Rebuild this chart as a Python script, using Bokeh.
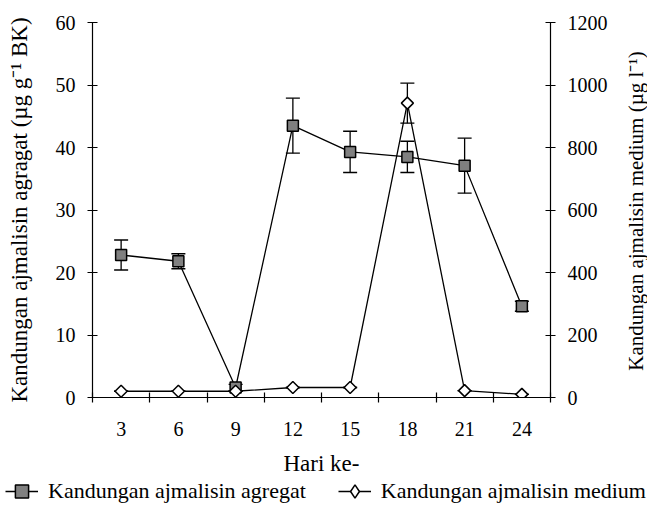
import math
from bokeh.plotting import figure
from bokeh.layouts import column, row
from bokeh.models import (Range1d, LinearAxis, FixedTicker, Whisker, ColumnDataSource,
                          Legend, LegendItem, TeeHead, Label)
from bokeh.embed import file_html
from bokeh.resources import INLINE

# ---- data ----
days = [3, 6, 9, 12, 15, 18, 21, 24]
day_boundaries = [1.5, 4.5, 7.5, 10.5, 13.5, 16.5, 19.5, 22.5, 25.5]
agregat = [22.8, 21.8, 1.6, 43.5, 39.3, 38.5, 37.1, 14.6]
agregat_err = [2.4, 1.2, 0.5, 4.4, 3.3, 2.5, 4.4, 0.8]
medium = [20, 20, 20, 32, 32, 942, 22, 10]
medium_err = [0, 0, 0, 0, 0, 64, 0, 0]
left_ticks = [0, 10, 20, 30, 40, 50, 60]
right_ticks = [0, 200, 400, 600, 800, 1000, 1200]
series_labels = ["Kandungan ajmalisin agregat", "Kandungan ajmalisin medium"]
left_title = "Kandungan ajmalisin agragat (\u00b5g g\u207b\u00b9 BK)"
right_title = "Kandungan ajmalisin medium (\u00b5g l\u207b\u00b9)"
x_title = "Hari ke-"

FONT = "Liberation Serif"

src_a = ColumnDataSource(dict(
    x=days, y=agregat,
    upper=[v + e for v, e in zip(agregat, agregat_err)],
    lower=[v - e for v, e in zip(agregat, agregat_err)]))
src_m = ColumnDataSource(dict(
    x=days, y=medium,
    upper=[v + e for v, e in zip(medium, medium_err)],
    lower=[v - e for v, e in zip(medium, medium_err)]))

PH = 478
p = figure(width=622, height=PH, output_backend="svg", toolbar_location=None,
           x_range=Range1d(1.5, 25.5), y_range=Range1d(0, 60),
           x_axis_type=None, y_axis_type=None,
           min_border_left=92, min_border_right=72, min_border_top=22, min_border_bottom=79)
p.extra_y_ranges = {"medium": Range1d(0, 1200)}
p.outline_line_color = None
p.xgrid.visible = False
p.ygrid.visible = False
p.background_fill_color = "white"
p.border_fill_color = "white"


def style_axis(ax):
    ax.axis_line_color = "black"
    ax.axis_line_width = 1.2
    ax.major_tick_line_color = "black"
    ax.major_tick_line_width = 1.2
    ax.minor_tick_line_color = "black"
    ax.minor_tick_line_width = 1.2
    ax.major_label_text_font = FONT
    ax.major_label_text_font_size = "20px"
    ax.major_label_text_color = "black"
    ax.axis_label_text_font = FONT
    ax.axis_label_text_font_size = "21px"
    ax.axis_label_text_font_style = "normal"
    ax.axis_label_text_color = "black"


xax = LinearAxis(ticker=FixedTicker(ticks=days, minor_ticks=day_boundaries),
                 axis_label=x_title)
style_axis(xax)
xax.axis_label_text_font_size = "23px"
xax.major_tick_in = 0
xax.major_tick_out = 0
xax.minor_tick_in = 5
xax.minor_tick_out = 5
xax.major_label_standoff = 19
xax.axis_label_standoff = 12
p.add_layout(xax, "below")

lax = LinearAxis(ticker=FixedTicker(ticks=left_ticks, minor_ticks=[]),
                 axis_label=left_title)
style_axis(lax)
lax.axis_label_text_font_size = "23px"
lax.major_tick_in = 5
lax.major_tick_out = 5
lax.minor_tick_in = 0
lax.minor_tick_out = 0
lax.major_label_standoff = 12
lax.axis_label_standoff = 21
p.add_layout(lax, "left")

rax = LinearAxis(y_range_name="medium",
                 ticker=FixedTicker(ticks=right_ticks, minor_ticks=[]))
style_axis(rax)
rax.major_tick_in = 5
rax.major_tick_out = 5
rax.minor_tick_in = 0
rax.minor_tick_out = 0
rax.major_label_standoff = 12
p.add_layout(rax, "right")


def add_series(fig, src, fill, marker, size, angle, range_name=None, whisker=True):
    kw = {} if range_name is None else {"y_range_name": range_name}
    if whisker:
        w = Whisker(source=src, base="x", upper="upper", lower="lower",
                    line_color="black", line_width=1.3,
                    upper_head=TeeHead(size=14, line_color="black", line_width=1.3),
                    lower_head=TeeHead(size=14, line_color="black", line_width=1.3), **kw)
        fig.add_layout(w)
    ln = fig.line("x", "y", source=src, line_color="black", line_width=1.3, **kw)
    sc = fig.scatter("x", "y", source=src, marker=marker, size=size, angle=angle,
                     fill_color=fill, line_color="black", line_width=1.5, **kw)
    return ln, sc


add_series(p, src_a, "#808080", "square", 11, 0)
add_series(p, src_m, "white", "square", 8.5, math.pi / 4, range_name="medium")


def blank(width, height):
    f = figure(width=width, height=height, output_backend="svg", toolbar_location=None,
               x_range=Range1d(-100, -99), y_range=Range1d(-100, -99),
               x_axis_type=None, y_axis_type=None,
               min_border_left=0, min_border_right=0, min_border_top=0, min_border_bottom=0)
    f.frame_align = False
    f.outline_line_color = None
    f.xgrid.visible = False
    f.ygrid.visible = False
    f.background_fill_color = "white"
    f.border_fill_color = "white"
    return f


# ---- right-hand axis title strip (reads bottom to top, like the reference) ----
r = blank(25, PH)
r.add_layout(Label(x=13, y=PH - 22 - (PH - 22 - 79) / 2, x_units="screen", y_units="screen",
                   text=right_title, angle=math.pi / 2, text_align="center",
                   text_baseline="middle", text_font=FONT, text_font_size="21px",
                   text_color="black"))

# ---- legend strip below the chart (same series, view kept off the data) ----
q = blank(647, 28)
la, sa = add_series(q, src_a, "#808080", "square", 11, 0, whisker=False)
lm, sm = add_series(q, src_m, "white", "diamond", 11, 0, whisker=False)

legend = Legend(items=[
    LegendItem(label=series_labels[0], renderers=[la, sa]),
    LegendItem(label=series_labels[1], renderers=[lm, sm]),
], orientation="horizontal", location=(5, -3), padding=0, margin=0,
    spacing=32, glyph_width=33, glyph_height=36, label_standoff=10,
    border_line_color=None, background_fill_alpha=0,
    label_text_font=FONT, label_text_font_size="22px", label_text_color="black")
q.add_layout(legend, "center")

layout = column(row(p, r, spacing=0), q, spacing=0)
open("out.html", "w").write(file_html(layout, INLINE))
